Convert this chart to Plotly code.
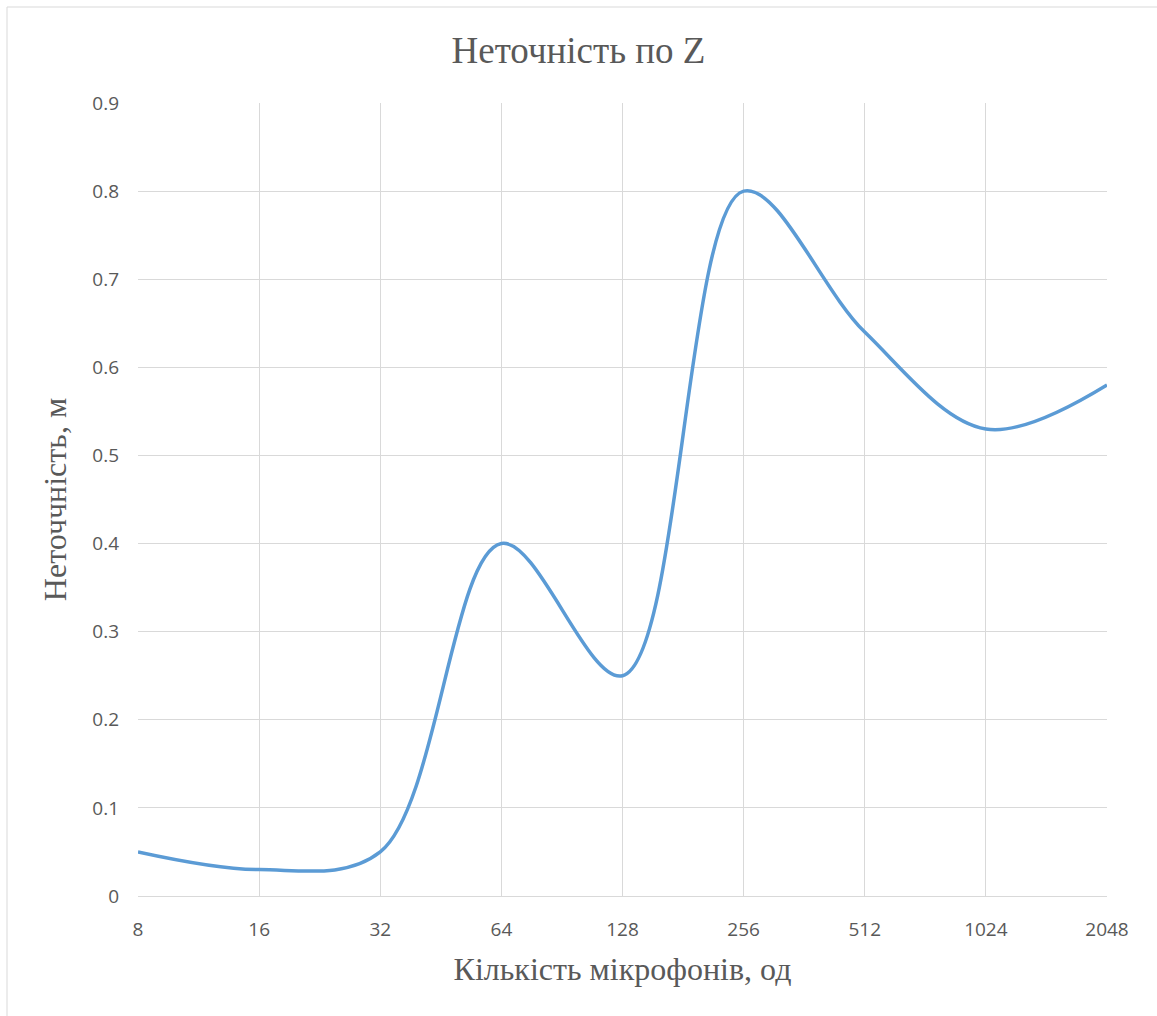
import plotly.graph_objects as go

categories = ["8", "16", "32", "64", "128", "256", "512", "1024", "2048"]
values = [0.05, 0.03, 0.05, 0.40, 0.25, 0.80, 0.64, 0.53, 0.58]
y_ticks = [0, 0.1, 0.2, 0.3, 0.4, 0.5, 0.6, 0.7, 0.8, 0.9]
y_labels = ["0", "0.1", "0.2", "0.3", "0.4", "0.5", "0.6", "0.7", "0.8", "0.9"]

fig = go.Figure()
fig.add_trace(go.Scatter(
    x=categories, y=values, mode="lines",
    line=dict(color="#5B9BD5", width=3.5, shape="spline", smoothing=1.0),
    showlegend=False,
))

grid = "#D9D9D9"
fig.update_layout(
    width=1157, height=1016,
    margin=dict(l=138, r=50, t=103, b=120),
    paper_bgcolor="white", plot_bgcolor="white",
    title=dict(text="Неточність по Z", x=0.5, xanchor="center", y=0.951, yanchor="middle",
               font=dict(family="Liberation Serif", size=37, color="#595959")),
    xaxis=dict(type="category", range=[0, 8], showgrid=True, gridcolor=grid, gridwidth=1,
               showline=True, linecolor=grid, linewidth=1, ticks="", zeroline=False,
               tickfont=dict(family="Open Sans", size=19, color="#595959"),
               ticklabelstandoff=16,
               title=dict(text="Кількість мікрофонів, од", standoff=16,
                          font=dict(family="Liberation Serif", size=32, color="#595959"))),
    yaxis=dict(range=[0, 0.9], tickvals=y_ticks, ticktext=y_labels, showgrid=True,
               gridcolor=grid, gridwidth=1, zeroline=False, showline=False, ticks="",
               tickfont=dict(family="Open Sans", size=19, color="#595959"),
               ticklabelstandoff=18,
               title=dict(text="Неточчність, м", standoff=16,
                          font=dict(family="Liberation Serif", size=32, color="#595959"))),
)
fig.add_shape(type="rect", xref="paper", yref="paper",
              x0=(7 - 138) / 969, x1=(1160 - 138) / 969,
              y0=(896 - 1020) / 793, y1=(896 - 7) / 793,
              line=dict(color="#D9D9D9", width=1), fillcolor="rgba(0,0,0,0)", layer="below")
fig.write_html("out.html")
